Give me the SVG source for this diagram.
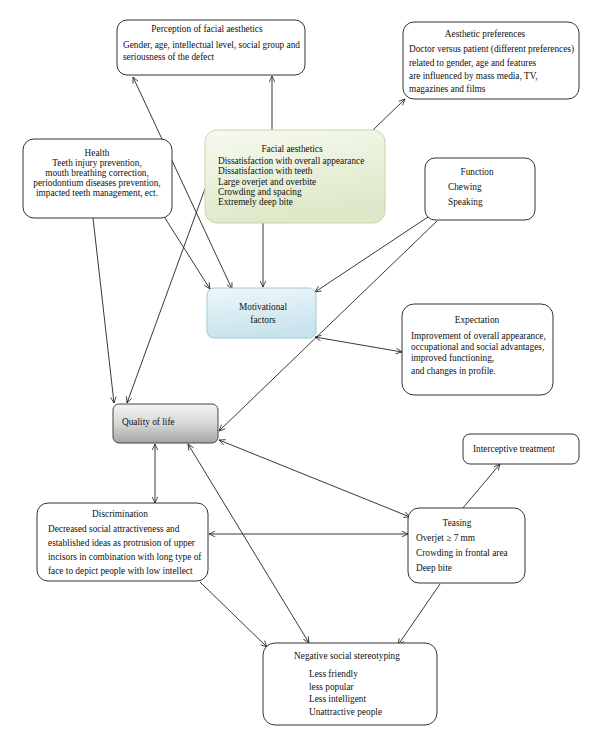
<svg xmlns="http://www.w3.org/2000/svg" width="600" height="746" viewBox="0 0 600 746">
<defs>
<marker id="arr" viewBox="0 0 8 8" refX="7.5" refY="4" markerWidth="7" markerHeight="7" markerUnits="userSpaceOnUse" orient="auto-start-reverse">
<path d="M0.5,0.8 L7.5,4 L0.5,7.2" fill="none" stroke="#222" stroke-width="0.9"/>
</marker>
<linearGradient id="gGreen" x1="0" y1="0" x2="0.3" y2="1">
<stop offset="0" stop-color="#f7faf0"/>
<stop offset="1" stop-color="#dde8c8"/>
</linearGradient>
<linearGradient id="gBlue" x1="0" y1="0" x2="0.2" y2="1">
<stop offset="0" stop-color="#eef7fa"/>
<stop offset="1" stop-color="#c8e3ed"/>
</linearGradient>
<linearGradient id="gGray" x1="0" y1="0" x2="0" y2="1">
<stop offset="0" stop-color="#f4f4f4"/>
<stop offset="0.5" stop-color="#d8d8d8"/>
<stop offset="1" stop-color="#a4a4a4"/>
</linearGradient>
</defs>
<style>
.box{fill:#fff;stroke:#333;stroke-width:1}
text{font-family:"Liberation Serif","Times New Roman",serif;font-size:9.3px;fill:#111}
.c{text-anchor:middle}
.conn line{stroke:#222;stroke-width:0.9}
</style>
<rect width="600" height="746" fill="#fff"/>

<g id="connectors" class="conn">
<line x1="272" y1="130" x2="272" y2="76" marker-end="url(#arr)"/>
<line x1="372" y1="131" x2="405" y2="99" marker-end="url(#arr)"/>
<line x1="133" y1="77" x2="232" y2="289" marker-start="url(#arr)" marker-end="url(#arr)"/>
<line x1="163" y1="215" x2="210" y2="289" marker-end="url(#arr)"/>
<line x1="263" y1="223" x2="263" y2="287" marker-end="url(#arr)"/>
<line x1="428" y1="217" x2="315" y2="292" marker-end="url(#arr)"/>
<line x1="437" y1="221" x2="219" y2="431" marker-end="url(#arr)"/>
<line x1="402" y1="352" x2="315" y2="337" marker-start="url(#arr)" marker-end="url(#arr)"/>
<line x1="93" y1="218" x2="114" y2="403" marker-end="url(#arr)"/>
<line x1="206" y1="186" x2="127" y2="403" marker-end="url(#arr)"/>
<line x1="155" y1="444" x2="155" y2="503" marker-start="url(#arr)" marker-end="url(#arr)"/>
<line x1="188" y1="444" x2="309" y2="643" marker-start="url(#arr)" marker-end="url(#arr)"/>
<line x1="219" y1="440" x2="410" y2="517" marker-start="url(#arr)" marker-end="url(#arr)"/>
<line x1="209" y1="534" x2="408" y2="534" marker-start="url(#arr)" marker-end="url(#arr)"/>
<line x1="462" y1="509" x2="500" y2="464" marker-end="url(#arr)"/>
<line x1="200" y1="582" x2="267" y2="647" marker-end="url(#arr)"/>
<line x1="440" y1="584" x2="398" y2="645" marker-end="url(#arr)"/>
</g>

<g id="perception">
<rect class="box" x="117" y="20" width="188" height="55" rx="10"/>
<text class="c" x="207" y="32">Perception of facial aesthetics</text>
<text x="123" y="48">Gender, age, intellectual level, social group and</text>
<text x="123" y="60">seriousness of the defect</text>
</g>

<g id="aesthetic-preferences">
<rect class="box" x="403" y="22" width="176" height="77" rx="11"/>
<text class="c" x="485" y="37">Aesthetic preferences</text>
<text x="409" y="52">Doctor versus patient (different preferences)</text>
<text x="409" y="66">related to gender, age and features</text>
<text x="409" y="79">are influenced by mass media, TV,</text>
<text x="409" y="92">magazines and films</text>
</g>

<g id="health">
<rect class="box" x="23" y="139" width="149" height="79" rx="11"/>
<text class="c" x="97" y="156">Health</text>
<text class="c" x="97" y="166">Teeth injury prevention,</text>
<text class="c" x="97" y="176">mouth breathing correction,</text>
<text class="c" x="97" y="186">periodontium diseases prevention,</text>
<text class="c" x="97" y="196">impacted teeth management, ect.</text>
</g>

<g id="facial-aesthetics">
<rect x="205" y="130" width="180" height="93" rx="12" fill="url(#gGreen)" stroke="#c6d6ab" stroke-width="1"/>
<text class="c" x="292" y="152">Facial aesthetics</text>
<text x="218" y="164">Dissatisfaction with overall appearance</text>
<text x="218" y="174">Dissatisfaction with teeth</text>
<text x="218" y="185">Large overjet and overbite</text>
<text x="218" y="195">Crowding and spacing</text>
<text x="218" y="205">Extremely deep bite</text>
</g>

<g id="function">
<rect class="box" x="425" y="158" width="110" height="62" rx="10"/>
<text class="c" x="477" y="175">Function</text>
<text x="448" y="190">Chewing</text>
<text x="448" y="205">Speaking</text>
</g>

<g id="motivational">
<rect x="207" y="288" width="109" height="50" rx="7" fill="url(#gBlue)" stroke="#9fc9d8" stroke-width="1"/>
<text class="c" x="263" y="310">Motivational</text>
<text class="c" x="263" y="323">factors</text>
</g>

<g id="expectation">
<rect class="box" x="402" y="304" width="151" height="91" rx="12"/>
<text class="c" x="477" y="323">Expectation</text>
<text x="411" y="339">Improvement of overall appearance,</text>
<text x="411" y="350">occupational and social advantages,</text>
<text x="411" y="361">improved functioning,</text>
<text x="411" y="374">and changes in profile.</text>
</g>

<g id="quality-of-life">
<rect x="113" y="404" width="105" height="39" rx="6" fill="url(#gGray)" stroke="#444" stroke-width="1"/>
<text x="122" y="425">Quality of life</text>
</g>

<g id="interceptive">
<rect class="box" x="463" y="434" width="116" height="30" rx="7"/>
<text x="473" y="452">Interceptive treatment</text>
</g>

<g id="discrimination">
<rect class="box" x="37" y="503" width="171" height="78" rx="11"/>
<text class="c" x="120" y="517">Discrimination</text>
<text x="48" y="532">Decreased social attractiveness and</text>
<text x="48" y="546">established ideas as protrusion of upper</text>
<text x="48" y="560">incisors in combination with long type of</text>
<text x="48" y="574">face to depict people with low intellect</text>
</g>

<g id="teasing">
<rect class="box" x="408" y="508" width="117" height="75" rx="11"/>
<text class="c" x="457" y="526">Teasing</text>
<text x="416" y="541">Overjet ≥ 7 mm</text>
<text x="416" y="556">Crowding in frontal area</text>
<text x="416" y="571">Deep bite</text>
</g>

<g id="negative">
<rect class="box" x="263" y="643" width="174" height="82" rx="12"/>
<text class="c" x="347" y="659">Negative social stereotyping</text>
<text x="309" y="677">Less friendly</text>
<text x="309" y="690">less popular</text>
<text x="309" y="702">Less intelligent</text>
<text x="309" y="715">Unattractive people</text>
</g>
</svg>
